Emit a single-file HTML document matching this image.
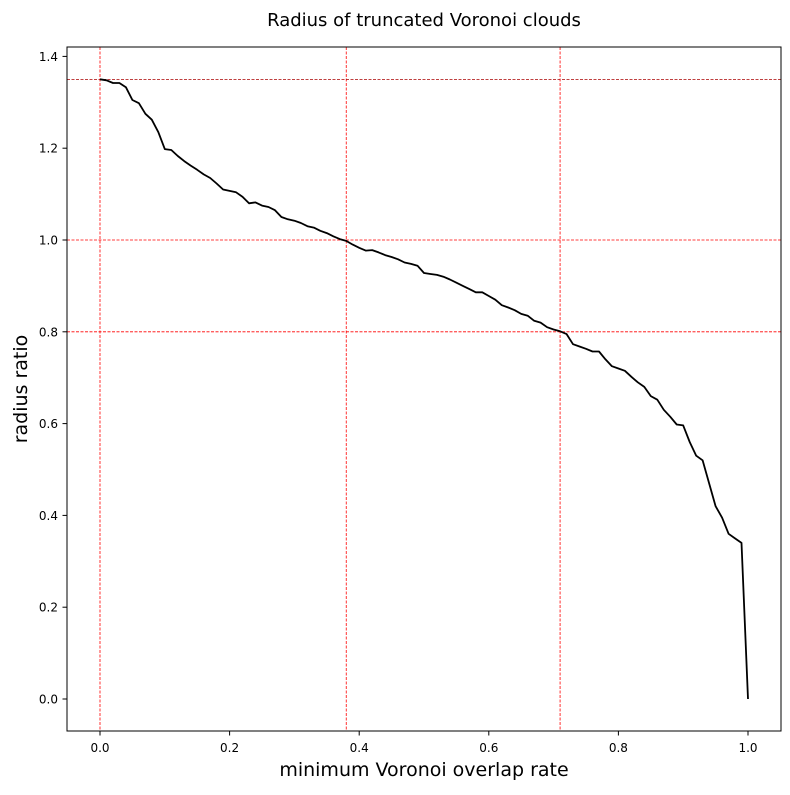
<!DOCTYPE html>
<html><head><meta charset="utf-8"><style>
body{margin:0;background:#fff;}
svg text{font-family:"DejaVu Sans","Liberation Sans",sans-serif;}
</style></head><body>
<svg id="chart" width="790" height="790" viewBox="0 0 790 790">
<rect width="790" height="790" fill="#fff"/>
<text x="424" y="26" font-size="18" text-anchor="middle">Radius of truncated Voronoi clouds</text>
<g id="grid"></g>
<g id="ticks"></g>
<path id="line" fill="none" stroke="#000" stroke-width="1.8" stroke-linejoin="round"/>
<rect x="67" y="47" width="714" height="684" fill="none" stroke="#000" stroke-width="1"/>
<text x="424" y="776" font-size="19" text-anchor="middle">minimum Voronoi overlap rate</text>
<text transform="translate(27,389) rotate(-90)" font-size="19" text-anchor="middle">radius ratio</text>
</svg>
<script>
const yValues=[1.35,1.348,1.342,1.342,1.333,1.305,1.298,1.275,1.262,1.235,1.198,1.196,1.183,1.172,1.162,1.153,1.143,1.135,1.123,1.11,1.107,1.104,1.094,1.08,1.082,1.075,1.072,1.065,1.05,1.045,1.042,1.037,1.03,1.027,1.02,1.015,1.008,1.002,0.998,0.99,0.983,0.977,0.978,0.973,0.967,0.963,0.958,0.951,0.948,0.944,0.928,0.926,0.924,0.92,0.914,0.907,0.9,0.893,0.886,0.886,0.878,0.87,0.858,0.853,0.847,0.839,0.835,0.824,0.82,0.81,0.805,0.801,0.795,0.773,0.768,0.763,0.757,0.757,0.74,0.725,0.72,0.715,0.702,0.69,0.68,0.66,0.652,0.63,0.615,0.598,0.596,0.56,0.53,0.52,0.47,0.42,0.395,0.36,0.35,0.34,0.0];
const xValues=yValues.map((_,i)=>i/100);
const xTicks=[0.0,0.2,0.4,0.6,0.8,1.0];
const yTicks=[0.0,0.2,0.4,0.6,0.8,1.0,1.2,1.4];
const vLines=[0.0,0.38,0.71];
const hLines=[1.35,1.0,0.8];
const sx=v=>100+v*648, sy=v=>699-v*459;
const NS="http://www.w3.org/2000/svg";
const grid=document.getElementById('grid'), ticks=document.getElementById('ticks');
function mk(tag,attrs,parent){const e=document.createElementNS(NS,tag);for(const k in attrs)e.setAttribute(k,attrs[k]);parent.appendChild(e);return e;}
vLines.forEach(v=>{const l=mk('line',{x1:sx(v),x2:sx(v),y1:47,y2:731,stroke:'#f00','stroke-width':0.8,'stroke-dasharray':'3,1.5'},grid);

});
hLines.forEach(v=>{const l=mk('line',{x1:67,x2:781,y1:sy(v),y2:sy(v),stroke:v===1.35?'#a00':'#f00','stroke-width':0.8,'stroke-dasharray':'3,1.5'},grid);

});
xTicks.forEach(v=>{mk('line',{x1:sx(v),x2:sx(v),y1:731,y2:735.5,stroke:'#000'},ticks);
const t=mk('text',{x:sx(v),y:752,'font-size':12,'text-anchor':'middle'},ticks);t.textContent=v.toFixed(1);

});
yTicks.forEach(v=>{mk('line',{x1:62.5,x2:67,y1:sy(v),y2:sy(v),stroke:'#000'},ticks);
const t=mk('text',{x:58,y:sy(v)+4.5,'font-size':12,'text-anchor':'end'},ticks);t.textContent=v.toFixed(1);

});
document.getElementById('line').setAttribute('d',xValues.map((x,i)=>(i?'L':'M')+sx(x).toFixed(1)+','+sy(yValues[i]).toFixed(1)).join(''));
</script>
</body></html>
